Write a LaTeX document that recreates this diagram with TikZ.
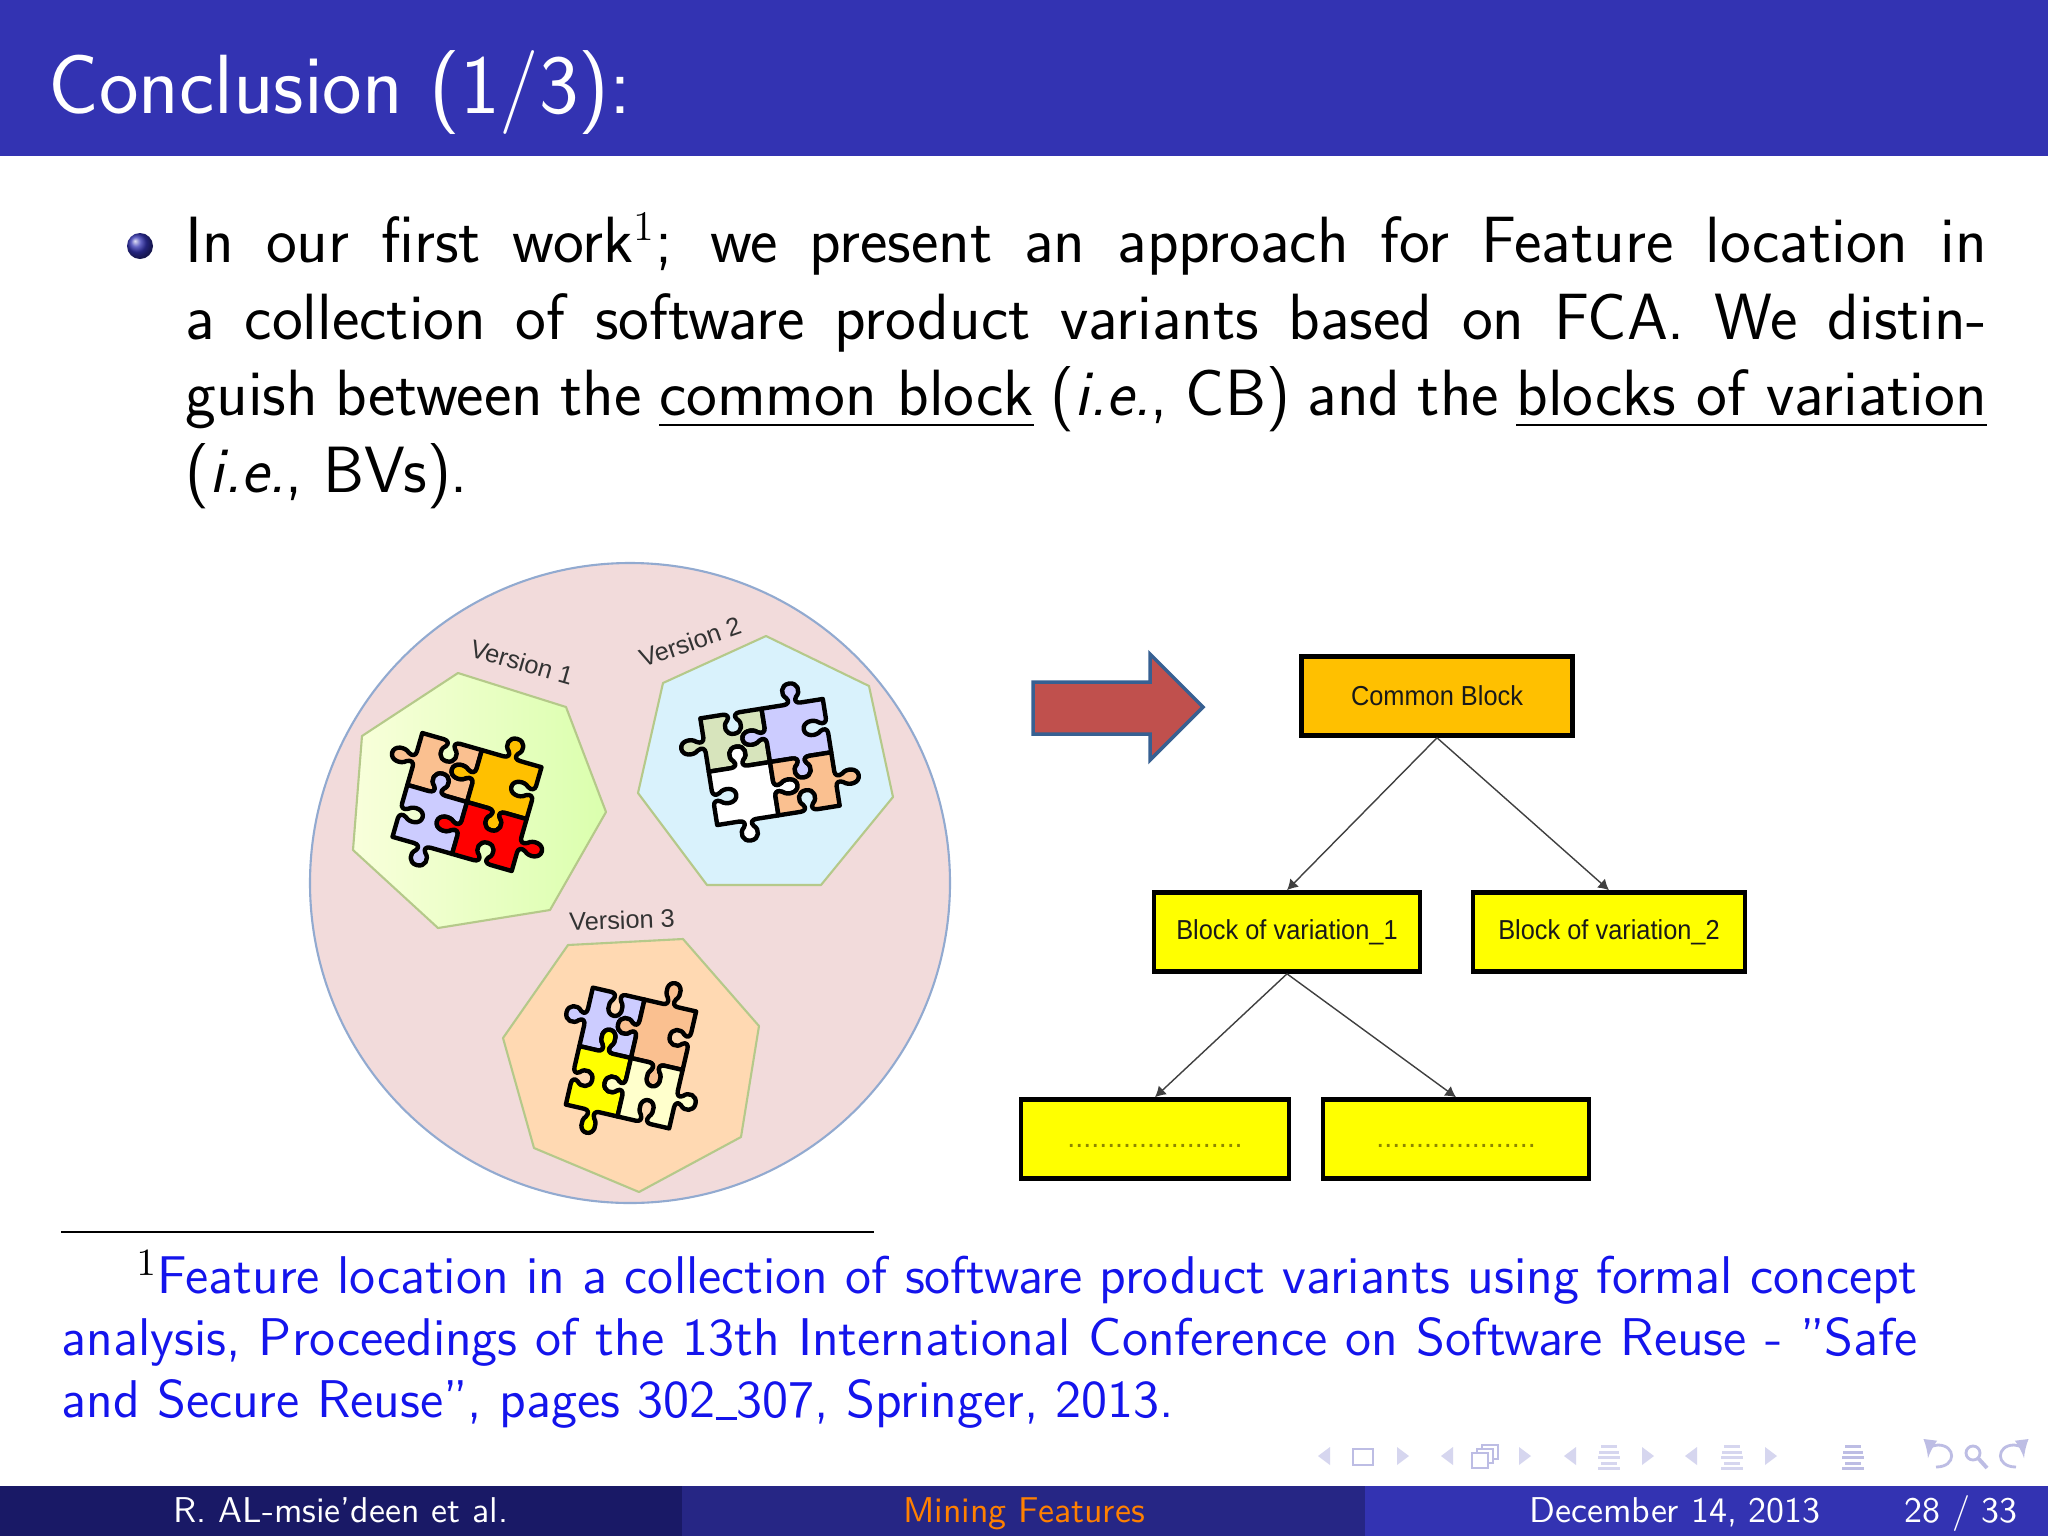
\documentclass[tikz,border=0pt]{standalone}
\usepackage{amsmath}
\usepackage{fontspec}
\newfontfamily\arialfont{Liberation Sans}
\usepackage{tikz}
\usetikzlibrary{arrows.meta}

\definecolor{barblue}{HTML}{3333B2}
\definecolor{footdark}{HTML}{191966}
\definecolor{footmid}{HTML}{262685}
\definecolor{noteblue}{HTML}{1414EC}
\definecolor{navlight}{HTML}{D6D6EF}
\definecolor{navmid}{HTML}{BDBDE4}
\definecolor{boxyellow}{rgb}{1,1,0}
\definecolor{boxamber}{HTML}{FFC000}
\definecolor{heptline}{HTML}{B5C98A}
\definecolor{pOrange}{HTML}{FAC090}
\definecolor{pLilac}{HTML}{CCCCFF}
\definecolor{pGreen}{HTML}{D7E4BC}
\definecolor{pCream}{HTML}{FFFFCC}
\definecolor{bigpink}{HTML}{F2DBDB}
\definecolor{bigline}{HTML}{92AAD0}
\definecolor{arrowred}{HTML}{C0504D}
\definecolor{arrowline}{HTML}{376092}

\tikzset{
	blockbox/.style={draw=black,line width=1.3pt,fill=#1,inner sep=0pt,minimum height=0.79cm,text=black!90,font=\arialfont\fontsize{7.8}{9}\selectfont},
	hept/.style={draw=heptline,line width=0.6pt,line join=round},
	piece/.style={draw=black,line width=1.25pt,line join=round},
	versionlabel/.style={text=black!80,inner sep=0pt,font=\arialfont\fontsize{7.2}{9}\selectfont},
	link/.style={draw=black!75,line width=0.4pt,-{Latex[length=3pt,width=3.4pt]}},
	ke/.style={shift={(\ka)},rotate=\kb,yscale=-\kc}
}

% one side of a puzzle piece, unit length, knob out (1) or in (-1)
\newcommand{\knobedge}[3]{\pgfextra{\gdef\ka{#1}\gdef\kb{#2}\gdef\kc{#3}}
	-- ([ke]0.36,0) .. controls ([ke]0.43,0) and ([ke]0.47,0.05) .. ([ke]0.42,0.12)
	.. controls ([ke]0.33,0.2) and ([ke]0.36,0.38) .. ([ke]0.5,0.38)
	.. controls ([ke]0.64,0.38) and ([ke]0.67,0.2) .. ([ke]0.58,0.12)
	.. controls ([ke]0.53,0.05) and ([ke]0.57,0) .. ([ke]0.64,0) -- ([ke]1,0)}

% centre, angle, size, colours of the four pieces, side of the lower knob
\newcommand{\puzzle}[8]{
	\begin{scope}[shift={(#1)},rotate=#2,#3]
		\draw[piece,fill=#4] (-1,-1) \knobedge{-1,-1}{0}{-1} \knobedge{0,-1}{-90}{-1} \knobedge{0,0}{180}{-1} \knobedge{-1,0}{90}{1} -- cycle;
		\draw[piece,fill=#5] (0,-1) \knobedge{0,-1}{0}{1} \knobedge{1,-1}{-90}{-1} \knobedge{1,0}{180}{1} \knobedge{0,0}{90}{1} -- cycle;
		\draw[piece,fill=#6] (-1,0) \knobedge{-1,0}{0}{1} \knobedge{0,0}{-90}{-#8} \knobedge{0,1}{180}{1} \knobedge{-1,1}{90}{-1} -- cycle;
		\draw[piece,fill=#7] (0,0) \knobedge{0,0}{0}{-1} \knobedge{1,0}{-90}{1} \knobedge{1,1}{180}{-1} \knobedge{0,1}{90}{#8} -- cycle;
	\end{scope}
}

\newcommand{\narrowtext}[1]{\scalebox{0.925}[1]{#1}}
\newcommand{\lowdots}[1]{\raisebox{-0.08cm}[0pt][0pt]{\fontsize{8.15}{9}\selectfont\textcolor{olive}{#1}}}

\begin{document}
\begin{tikzpicture}[x=0.01cm,y=-0.01cm]
	
	\useasboundingbox (0,0) rectangle (2048,1536);
	\fill[white] (0,0) rectangle (2048,1536);
	
	% title bar
	\fill[barblue] (0,0) rectangle (2048,156);
	\node[anchor=base west,inner sep=0pt,text=white,font=\sffamily\fontsize{23.9}{28}\selectfont] (title) at (48,113) {Conclusion (1/3):};
	
	% text
	\shade[ball color=barblue] (140,246) circle (13);
	\node[anchor=north west,inner sep=0pt,text width=18cm,align=justify,font=\sffamily\fontsize{18.6}{21.76}\selectfont] (body) at (185,213) {In our first work$^1$; we present an approach for Feature location in\linebreak
	a collection of software product variants based on FCA. We distin-\linebreak
	guish between the \underline{common block} (\textit{i.e.}, CB) and the \underline{blocks of variation}\linebreak
	(\textit{i.e.}, BVs).};
	
	% versions
	\draw[draw=bigline,fill=bigpink,line width=0.6pt] (630,883) circle (320);
	
	\shadedraw[hept,left color=green!18!yellow!14!white,right color=green!45!yellow!32!white] (458,673) -- (566,707) -- (606,812) -- (550,910) -- (438,928) -- (353,850) -- (362,736) -- cycle;
	\draw[hept,fill=cyan!40!blue!2!cyan!15!white] (766,636) -- (869,686) -- (893,797) -- (821,885) -- (707,885) -- (638,793) -- (663,683) -- cycle;
	\draw[hept,fill=orange!30!white] (683,939) -- (759,1026) -- (741,1137) -- (639,1192) -- (534,1148) -- (503,1038) -- (568,945) -- cycle;
	
	\node[versionlabel,rotate=-16] (v1) at (522,662) {Version 1};
	\node[versionlabel,rotate=19] (v2) at (690,642) {Version 2};
	\node[versionlabel,rotate=2] (v3) at (622,920) {Version 3};
	
	\puzzle{467,802}{-16}{xscale=62,yscale=54}{pOrange}{boxamber}{pLilac}{red}{1}
	\puzzle{770,762}{9}{xscale=62,yscale=54}{pGreen}{pLilac}{white}{pOrange}{-1}
	\puzzle{631,1058}{-13}{xscale=53,yscale=60}{pLilac}{pOrange}{boxyellow}{pCream}{1}
	
	% arrow
	\draw[draw=arrowline,fill=arrowred,line width=1pt,line join=miter] (1033,682) -- (1150,682) -- (1150,654) -- (1203,707) -- (1150,760) -- (1150,734) -- (1033,734) -- cycle;
	
	% blocks
	\node[blockbox=boxamber,minimum width=2.71cm] (cb) at (1437,696) {\narrowtext{Common Block}};
	\node[blockbox=boxyellow,minimum width=2.66cm] (bv1) at (1287,932) {\narrowtext{Block of variation\_1}};
	\node[blockbox=boxyellow,minimum width=2.72cm] (bv2) at (1609,932) {\narrowtext{Block of variation\_2}};
	\node[blockbox=boxyellow,minimum width=2.68cm] (l1) at (1155,1139) {\lowdots{......................}};
	\node[blockbox=boxyellow,minimum width=2.66cm] (l2) at (1456,1139) {\lowdots{....................}};
	
	\draw[link] (cb.south) -- (bv1.north);
	\draw[link] (cb.south) -- (bv2.north);
	\draw[link] (bv1.south) -- (l1.north);
	\draw[link] (bv1.south) -- (l2.north);
	
	% footnote
	\draw[line width=0.5pt] (61,1232) -- (874,1232);
	\node[anchor=north west,inner sep=0pt,text width=18.55cm,align=justify,text=noteblue,font=\sffamily\fontsize{15.1}{17.6}\selectfont] (note) at (61,1250) {\hspace*{0.75cm}\textcolor{black}{$^1$}Feature location in a collection of software product variants using formal concept\linebreak
	analysis, Proceedings of the 13th International Conference on Software Reuse - ”Safe\linebreak
	and Secure Reuse”, pages 302\rule[-0.05em]{0.4em}{0.06em}307, Springer, 2013.};
	
	% navigation symbols
	\foreach \navx in {1324,1447,1570,1691}
		\fill[navlight] ({\navx-6},1456) -- ({\navx+6},1447) -- ({\navx+6},1465) -- cycle;
	\foreach \navx in {1403,1525,1648,1771}
		\fill[navlight] ({\navx+6},1456) -- ({\navx-6},1447) -- ({\navx-6},1465) -- cycle;
	\draw[navmid,line width=0.7pt] (1353,1449) rectangle (1373,1465);
	\draw[navmid,line width=0.7pt,fill=white] (1482,1445) rectangle (1498,1459);
	\draw[navmid,line width=0.7pt,fill=white] (1477,1449) rectangle (1493,1463);
	\draw[navmid,line width=0.7pt,fill=white] (1472,1453) rectangle (1488,1468);
	\foreach \navx/\navcol in {1609/navlight,1732/navlight,1853/navmid}
		\foreach \navy/\navw in {1446/8,1452/10,1457/11,1463/8,1468/11}
			\fill[\navcol] ({\navx-\navw},{\navy-1.5}) rectangle ({\navx+\navw},{\navy+1.5});
	\draw[navmid,line width=0.8pt,-latex] (1936,1467) .. controls (1957,1467) and (1956,1445) .. (1938,1445) .. controls (1932,1445) and (1929,1450) .. (1928,1458);
	\draw[navmid,line width=0.8pt] (1973,1453) circle (7);
	\draw[navmid,line width=1.1pt] (1978,1458) -- (1987,1468);
	\draw[navmid,line width=0.8pt,-latex] (2016,1467) .. controls (1995,1467) and (1996,1445) .. (2014,1445) .. controls (2020,1445) and (2023,1450) .. (2024,1458);
	
	% footline
	\fill[footdark] (0,1486) rectangle (682,1536);
	\fill[footmid] (682,1486) rectangle (1365,1536);
	\fill[barblue] (1365,1486) rectangle (2048,1536);
	\node[anchor=base,inner sep=0pt,text=white,font=\sffamily\fontsize{10.2}{13}\selectfont] (fauthor) at (341,1522) {R. AL-msie'deen et al.};
	\node[anchor=base,inner sep=0pt,text=orange,font=\sffamily\fontsize{10.2}{13}\selectfont] (ftitle) at (1024,1522) {Mining Features};
	\node[anchor=base,inner sep=0pt,text=white,font=\sffamily\fontsize{10.2}{13}\selectfont] (fdate) at (1675,1522) {December 14, 2013};
	\node[anchor=base,inner sep=0pt,text=white,font=\sffamily\fontsize{10.2}{13}\selectfont] (fpage) at (1961,1522) {28 / 33};
	
\end{tikzpicture}
\end{document}
